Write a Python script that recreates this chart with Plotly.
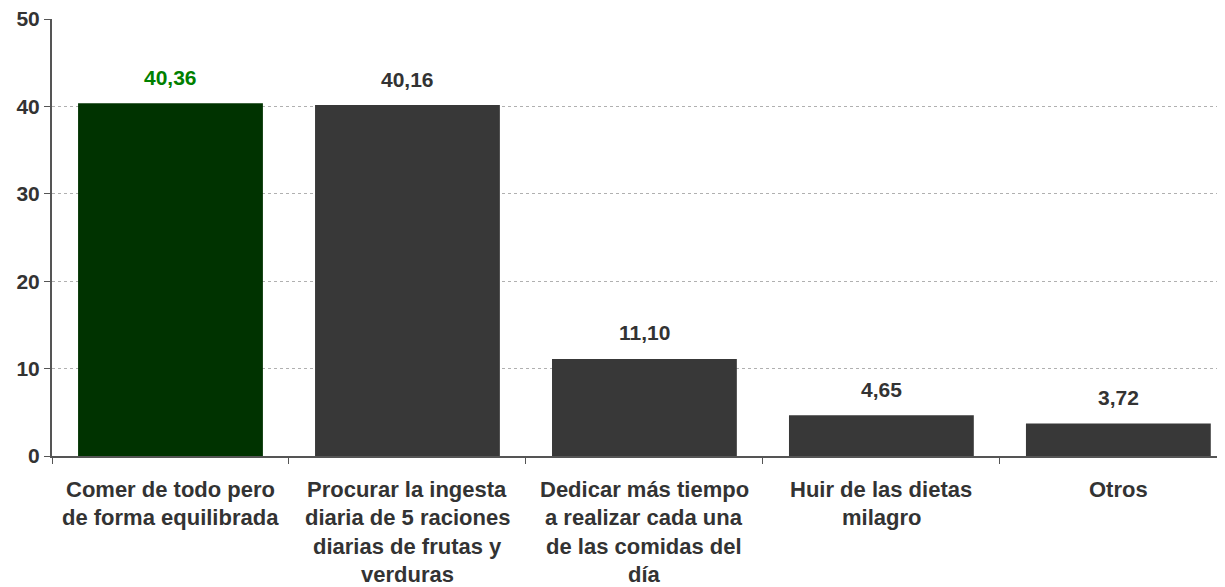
import plotly.graph_objects as go

categories = [
    ["Comer de todo pero", "de forma equilibrada"],
    ["Procurar la ingesta", "diaria de 5 raciones", "diarias de frutas y", "verduras"],
    ["Dedicar más tiempo", "a realizar cada una", "de las comidas del", "día"],
    ["Huir de las dietas", "milagro"],
    ["Otros"],
]
values = [40.36, 40.16, 11.10, 4.65, 3.72]
value_labels = ["40,36", "40,16", "11,10", "4,65", "3,72"]
bar_colors = ["#003300", "#383838", "#383838", "#383838", "#383838"]
label_colors = ["#008000", "#333333", "#333333", "#333333", "#333333"]
y_ticks = [0, 10, 20, 30, 40, 50]

FONT = "Liberation Sans, Arial, sans-serif"
xs = list(range(len(values)))

fig = go.Figure()
fig.add_trace(go.Bar(
    x=xs, y=values, marker=dict(color=bar_colors, line=dict(width=0)),
    width=0.78, hoverinfo="skip",
))

annotations = []
for i, (v, t, c) in enumerate(zip(values, value_labels, label_colors)):
    annotations.append(dict(
        x=i, y=v, xref="x", yref="y", text=f"<b>{t}</b>", showarrow=False,
        yanchor="middle", yshift=26,
        font=dict(family=FONT, size=21, color=c),
    ))
for i, lines in enumerate(categories):
    for j, line in enumerate(lines):
        annotations.append(dict(
            x=i, y=0, xref="x", yref="paper", text=f"<b>{line}</b>", showarrow=False,
            yanchor="middle", yshift=-(33 + 28.5 * j),
            font=dict(family=FONT, size=22, color="#333333"),
        ))

# page body adds an 8px offset, so the figure is sized to fill the rest of the window
fig.update_layout(
    width=1217, height=579,
    margin=dict(l=44, r=0, t=11, b=131, autoexpand=False),
    paper_bgcolor="white", plot_bgcolor="white",
    showlegend=False,
    annotations=annotations,
    xaxis=dict(
        range=[-0.5, 4.45], tickmode="array", tickvals=[-0.5, 0.5, 1.5, 2.5, 3.5],
        showticklabels=False, ticks="outside", ticklen=6, tickcolor="#555555",
        showgrid=False, zeroline=False, showline=True, linecolor="#555555", linewidth=2,
        automargin=False,
    ),
    yaxis=dict(
        range=[0, 50], tickvals=y_ticks, ticks="outside", ticklen=6, tickcolor="#555555",
        showline=True, linecolor="#555555", linewidth=2,
        showgrid=True, gridcolor="#b0b0b0", griddash="dot", gridwidth=1,
        zeroline=False, automargin=False, ticklabeloverflow="allow",
        tickfont=dict(family=FONT, size=21, color="#333333", weight="bold"),
    ),
)

fig.write_html("out.html")
